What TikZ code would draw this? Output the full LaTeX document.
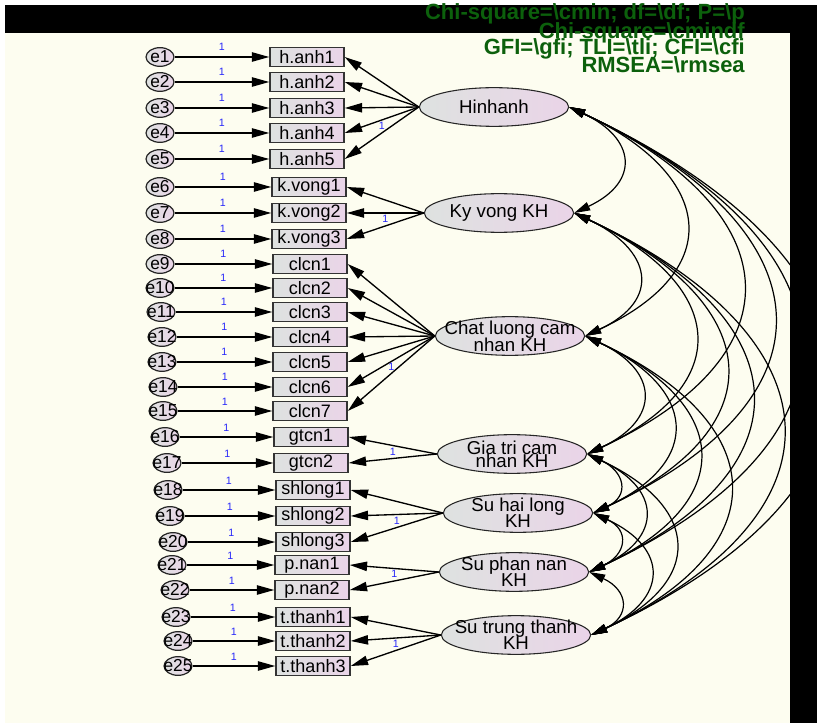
\documentclass[tikz,border=0pt]{standalone}
\usepackage{fontspec}
\setmainfont{Liberation Sans}
\usetikzlibrary{arrows.meta,shapes}
\pgfdeclarelayer{background}
\pgfdeclarelayer{foreground}
\pgfsetlayers{background,main,foreground}
\definecolor{paper}{RGB}{253,253,240}
\definecolor{boxgray}{RGB}{222,226,224}
\definecolor{boxpink}{RGB}{234,212,232}
\definecolor{fitgreen}{RGB}{12,96,12}
\definecolor{onecol}{RGB}{40,40,250}
\tikzstyle{error}=[ellipse,draw=black!85,line width=0.9pt,left color=boxgray,right color=boxpink,minimum width=21pt,minimum height=14pt,inner sep=0pt]
\tikzstyle{elabel}=[font=\fontsize{13}{13}\selectfont,inner sep=0pt]
\tikzstyle{observed}=[rectangle,draw=black!80,line width=1.1pt,left color=boxgray,right color=boxpink,minimum width=55.5pt,minimum height=14.5pt,inner sep=0pt,font=\fontsize{13.5}{14}\selectfont]
\tikzstyle{latent}=[ellipse,draw=black!85,line width=0.8pt,left color=boxgray,right color=boxpink,minimum width=112pt,minimum height=29pt,inner sep=0pt]
\tikzstyle{latlabel}=[font=\fontsize{14}{11.25}\selectfont,align=center,inner sep=0pt]
\tikzstyle{one}=[text=onecol,font=\fontsize{8}{9}\selectfont,inner sep=1pt]
\tikzstyle{fitline}=[anchor=base east,text=fitgreen,inner sep=0pt,font=\fontsize{16.5}{17}\selectfont\bfseries]
\tikzstyle{loading}=[draw,line width=1pt,-{Triangle[length=13pt,width=7pt]}]
\tikzstyle{errarrow}=[draw,line width=1pt,-{Triangle[length=13pt,width=7pt]}]
\tikzstyle{cov}=[draw,line width=0.9pt,{Triangle[length=12pt,width=6.5pt]}-{Triangle[length=12pt,width=6.5pt]}]

\begin{document}
\begin{tikzpicture}[x=0.75pt,y=-0.75pt]
    \useasboundingbox (0,0) rectangle (817,723);
    % Paper behind the model
    \begin{pgfonlayer}{background}
        \fill[white] (0,0) rectangle (817,723);
        \fill[paper] (5,33) rectangle (790,723);
    \end{pgfonlayer}

    % First the observed variables
    \foreach \pos/\name/\txt in {{(307,57)/ha1/h.anh1},{(307,82)/ha2/h.anh2},{(307,108)/ha3/h.anh3},{(307,133)/ha4/h.anh4},{(307,159)/ha5/h.anh5},
        {(309,187)/kv1/k.vong1},{(309,213)/kv2/k.vong2},{(309,239)/kv3/k.vong3},
        {(310,264)/cl1/clcn1},{(310,288)/cl2/clcn2},{(310,312)/cl3/clcn3},{(310,337)/cl4/clcn4},{(310,362)/cl5/clcn5},{(310,387)/cl6/clcn6},{(310,411)/cl7/clcn7},
        {(311,437)/gt1/gtcn1},{(311,463)/gt2/gtcn2},
        {(313,490)/sh1/shlong1},{(313,516)/sh2/shlong2},{(313,542)/sh3/shlong3},
        {(312,565)/pn1/p.nan1},{(312,590)/pn2/p.nan2},
        {(313,617)/tt1/t.thanh1},{(313,641)/tt2/t.thanh2},{(313,666)/tt3/t.thanh3}}
        \node[observed] (\name) at \pos {\txt};

    % Error terms
    \foreach \pos/\name in {{(160,57)/e1},{(160,82)/e2},{(160,108)/e3},{(160,133)/e4},{(160,159)/e5},
        {(160,187)/e6},{(160,213)/e7},{(160,239)/e8},{(160,264)/e9},{(160,288)/e10},
        {(161,312)/e11},{(162,337)/e12},{(162,362)/e13},{(163,387)/e14},{(163,411)/e15},
        {(165,437)/e16},{(167,463)/e17},{(168,490)/e18},{(170,516)/e19},{(173,542)/e20},
        {(172,565)/e21},{(175,590)/e22},{(176,617)/e23},{(178,641)/e24},{(178,666)/e25}}
        \node[error,label={[elabel]center:\name}] (\name) at \pos {};

    % Latent factors
    \foreach \pos/\name/\txt in {{(494,107)/HA/Hinhanh},{(499,213)/KV/Ky vong KH},
        {(510,336)/CL/{Chat luong cam\\[-1.5pt]nhan KH}},{(512,454)/GT/{Gia tri cam\\[-1.5pt]nhan KH}},
        {(518,513)/SH/{Su hai long\\[-1.5pt]KH}},{(514,572)/PN/{Su phan nan\\[-1.5pt]KH}},
        {(516,635)/TT/{Su trung thanh\\[-1.5pt]KH}}}
        \node[latent,label={[latlabel]center:\txt}] (\name) at \pos {};

    % Errors point to their indicators
    \foreach \source/\dest in {e1/ha1,e2/ha2,e3/ha3,e4/ha4,e5/ha5,e6/kv1,e7/kv2,e8/kv3,
        e9/cl1,e10/cl2,e11/cl3,e12/cl4,e13/cl5,e14/cl6,e15/cl7,e16/gt1,e17/gt2,
        e18/sh1,e19/sh2,e20/sh3,e21/pn1,e22/pn2,e23/tt1,e24/tt2,e25/tt3}
        \path[errarrow] (\source) -- node[one,above=3pt]{1} (\dest.west);

    % Factor loadings
    \foreach \source/\dest in {HA/ha1,HA/ha2,HA/ha3,HA/ha4,KV/kv1,KV/kv2,
        CL/cl1,CL/cl2,CL/cl3,CL/cl4,CL/cl5,CL/cl6,GT/gt1,SH/sh1,SH/sh2,PN/pn1,TT/tt1,TT/tt2}
        \path[loading] (\source.west) -- (\dest.east);
    \foreach \source/\dest in {HA/ha5,KV/kv3,CL/cl7,GT/gt2,SH/sh3,PN/pn2,TT/tt3}
        \path[loading] (\source.west) -- node[one,above=1pt]{1} (\dest.east);

    % Covariances between all factors
    \foreach \source/\dest in {HA/KV,HA/CL,HA/GT,HA/SH,HA/PN,HA/TT,
        KV/CL,KV/GT,KV/SH,KV/PN,KV/TT,CL/GT,CL/SH,CL/PN,CL/TT,
        GT/SH,GT/PN,GT/TT,SH/PN,SH/TT,PN/TT}
        \path[cov] (\source.east) to[out=-25,in=25,looseness=1.77] (\dest.east);

    % Frame and fit indices
    \begin{pgfonlayer}{foreground}
        \fill[black] (5,5) rectangle (817,33);
        \fill[black] (790,5) rectangle (817,723);
        \foreach \y/\name/\txt in {20/fit1/{Chi-square=\textbackslash cmin; df=\textbackslash df; P=\textbackslash p},
            39/fit2/{Chi-square=\textbackslash cmindf},
            55/fit3/{GFI=\textbackslash gfi; TLI=\textbackslash tli; CFI=\textbackslash cfi},
            73/fit4/{RMSEA=\textbackslash rmsea}}
            \node[fitline] (\name) at (745,\y) {\txt};
    \end{pgfonlayer}
\end{tikzpicture}
\end{document}
